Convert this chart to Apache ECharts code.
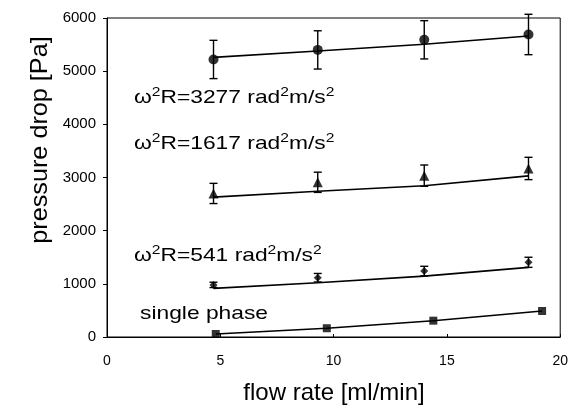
<!DOCTYPE html>
<html><head><meta charset="utf-8">
<script src="https://cdn.jsdelivr.net/npm/echarts@6/dist/echarts.min.js"></script>
<style>html,body{margin:0;padding:0;background:#fff}#c{width:571px;height:405px}</style>
</head><body><div id="c"></div>
<script>
// Data
const xHigh = [4.7, 9.3, 14.0, 18.6];
const xSingle = [4.8, 9.7, 14.4, 19.2];

const y3277 = [5220, 5400, 5590, 5690];
const err3277 = [360, 360, 360, 380];
const fit3277 = [5260, 5380, 5505, 5660];

const y1617 = [2700, 2910, 3035, 3170];
const err1617 = [190, 190, 200, 210];
const fit1617 = [2630, 2740, 2845, 3030];

const y541 = [980, 1115, 1240, 1405];
const err541 = [50, 80, 90, 95];
const fit541 = [915, 1020, 1145, 1310];

const ySingle = [56, 165, 307, 489];
const fitSingle = [56, 165, 307, 489];

const xTicks = [0, 5, 10, 15, 20];
const yTicks = [0, 1000, 2000, 3000, 4000, 5000, 6000];

const omegaValues = ['3277', '1617', '541'];
const singleLabel = 'single phase';

const FONT = 'Liberation Sans, Arial, sans-serif';
const pair = (xs, ys) => xs.map((x, i) => [x, ys[i]]);
const errData = (xs, ys, es) => xs.map((x, i) => [x, ys[i] - es[i], ys[i] + es[i]]);

function errSeries(data) {
  return {
    type: 'custom',
    data: data,
    z: 3,
    renderItem: function (params, api) {
      const x = api.value(0);
      const lo = api.coord([x, api.value(1)]);
      const hi = api.coord([x, api.value(2)]);
      const w = 4;
      const st = { stroke: '#000', lineWidth: 1.4 };
      return {
        type: 'group',
        children: [
          { type: 'line', shape: { x1: lo[0], y1: lo[1], x2: hi[0], y2: hi[1] }, style: st },
          { type: 'line', shape: { x1: lo[0] - w, y1: lo[1], x2: lo[0] + w, y2: lo[1] }, style: st },
          { type: 'line', shape: { x1: hi[0] - w, y1: hi[1], x2: hi[0] + w, y2: hi[1] }, style: st }
        ]
      };
    }
  };
}
function fitLine(xs, ys) {
  return { type: 'line', data: pair(xs, ys), symbol: 'none', lineStyle: { color: '#000', width: 1.6 }, z: 2 };
}
function marks(xs, ys, sym, size) {
  return { type: 'scatter', data: pair(xs, ys), symbol: sym, symbolSize: size, itemStyle: { color: '#000' }, z: 4 };
}
const rich = {
  a: { fontFamily: FONT, fontSize: 19, color: '#000', lineHeight: 24, verticalAlign: 'bottom' },
  s: { fontFamily: FONT, fontSize: 13, color: '#000', lineHeight: 24, verticalAlign: 'bottom', padding: [0, 0, 8, 0] }
};
function omegaText(v, y) {
  return {
    type: 'text', x: 134, y: y, scaleX: 1.2,
    style: {
      text: '{a|ω}{s|2}{a|R=' + v + ' rad}{s|2}{a|m/s}{s|2}',
      rich: rich, verticalAlign: 'middle'
    }
  };
}

const chart = echarts.init(document.getElementById('c'), null, { renderer: 'canvas' });
chart.setOption({
  animation: false,
  backgroundColor: '#fff',
  grid: { left: 107, right: 9, top: 18, bottom: 68, show: true, borderColor: '#000', borderWidth: 1 },
  xAxis: {
    type: 'value', min: xTicks[0], max: xTicks[xTicks.length - 1], interval: 5,
    axisLine: { lineStyle: { color: '#000', width: 1 } },
    axisTick: { show: true, length: 3, inside: true, lineStyle: { color: '#000' } },
    axisLabel: { color: '#000', fontFamily: FONT, fontSize: 14, margin: 17 },
    splitLine: { show: false }
  },
  yAxis: {
    type: 'value', min: yTicks[0], max: yTicks[yTicks.length - 1], interval: 1000,
    axisLine: { show: true, lineStyle: { color: '#000', width: 1 } },
    axisTick: { show: true, length: 4, lineStyle: { color: '#000' } },
    axisLabel: { color: '#000', fontFamily: FONT, fontSize: 15, margin: 11, formatter: v => String(v) },
    splitLine: { show: false }
  },
  graphic: [
    { type: 'text', x: 334, y: 393, scaleX: 1.0, style: { text: 'flow rate [ml/min]', font: '24px ' + FONT, fill: '#000', align: 'center', verticalAlign: 'middle' } },
    { type: 'text', x: 40, y: 140, rotation: Math.PI / 2, scaleX: 1.05, style: { text: 'pressure drop [Pa]', font: '24px ' + FONT, fill: '#000', align: 'center', verticalAlign: 'middle' } },
    omegaText(omegaValues[0], 95),
    omegaText(omegaValues[1], 141),
    omegaText(omegaValues[2], 253),
    { type: 'text', x: 140, y: 314, scaleX: 1.2, style: { text: singleLabel, font: '19px ' + FONT, fill: '#000', verticalAlign: 'middle' } }
  ],
  series: [
    fitLine(xHigh, fit3277), errSeries(errData(xHigh, y3277, err3277)), marks(xHigh, y3277, 'circle', 10),
    fitLine(xHigh, fit1617), errSeries(errData(xHigh, y1617, err1617)), marks(xHigh, y1617, 'triangle', 10),
    fitLine(xHigh, fit541), errSeries(errData(xHigh, y541, err541)), marks(xHigh, y541, 'diamond', 8),
    fitLine(xSingle, fitSingle), marks(xSingle, ySingle, 'rect', 8)
  ]
});
</script></body></html>
